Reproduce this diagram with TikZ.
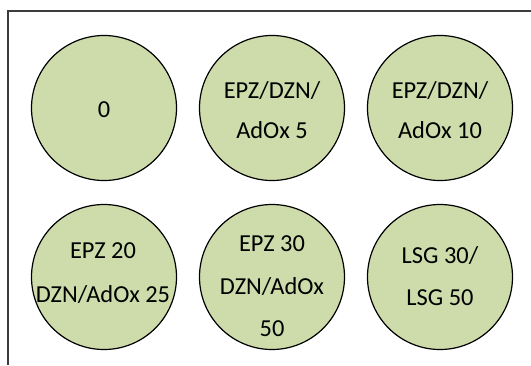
\documentclass[tikz,border=0pt]{standalone}
\usepackage{fontspec}
\setmainfont{Carlito}
\definecolor{disc}{RGB}{205,220,170}
\definecolor{framec}{RGB}{60,60,60}
\begin{document}
\begin{tikzpicture}[x=1pt,y=-1pt,
  disk/.style={circle,draw=black,line width=1.2pt,fill=disc,minimum size=145pt,inner sep=0pt},
  txt/.style={anchor=base,inner sep=0pt,font=\fontsize{24.4}{29}\selectfont}]
\useasboundingbox (0,0) rectangle (531,365);
\fill[white] (0,0) rectangle (531,365);
\coordinate (ftr) at (531,11);
\coordinate (ftl) at (8,11);
\coordinate (fbl) at (8,365);
\draw[framec,line width=1.5pt] (ftr) -- (ftl) -- (fbl);
% circles
\node[disk] (c1) at (104,108) {};
\node[disk] (c2) at (272,108) {};
\node[disk] (c3) at (440,108) {};
\node[disk] (c4) at (104,277) {};
\node[disk] (c5) at (272,277) {};
\node[disk] (c6) at (440,277) {};
% texts
\node[txt] (t1) at (104,117) {0};
\node[txt] (t2a) at (272,98) {EPZ/DZN/};
\node[txt] (t2b) at (272,138) {AdOx 5};
\node[txt] (t3a) at (440,98) {EPZ/DZN/};
\node[txt] (t3b) at (440,138) {AdOx 10};
\node[txt] (t4a) at (103,258) {EPZ 20};
\node[txt] (t4b) at (103,302) {DZN/AdOx 25};
\node[txt] (t5a) at (272,251) {EPZ 30};
\node[txt] (t5b) at (272,294) {DZN/AdOx};
\node[txt] (t5c) at (272,336) {50};
\node[txt] (t6a) at (440,263) {LSG 30/};
\node[txt] (t6b) at (440,305) {LSG 50};
\end{tikzpicture}
\end{document}
